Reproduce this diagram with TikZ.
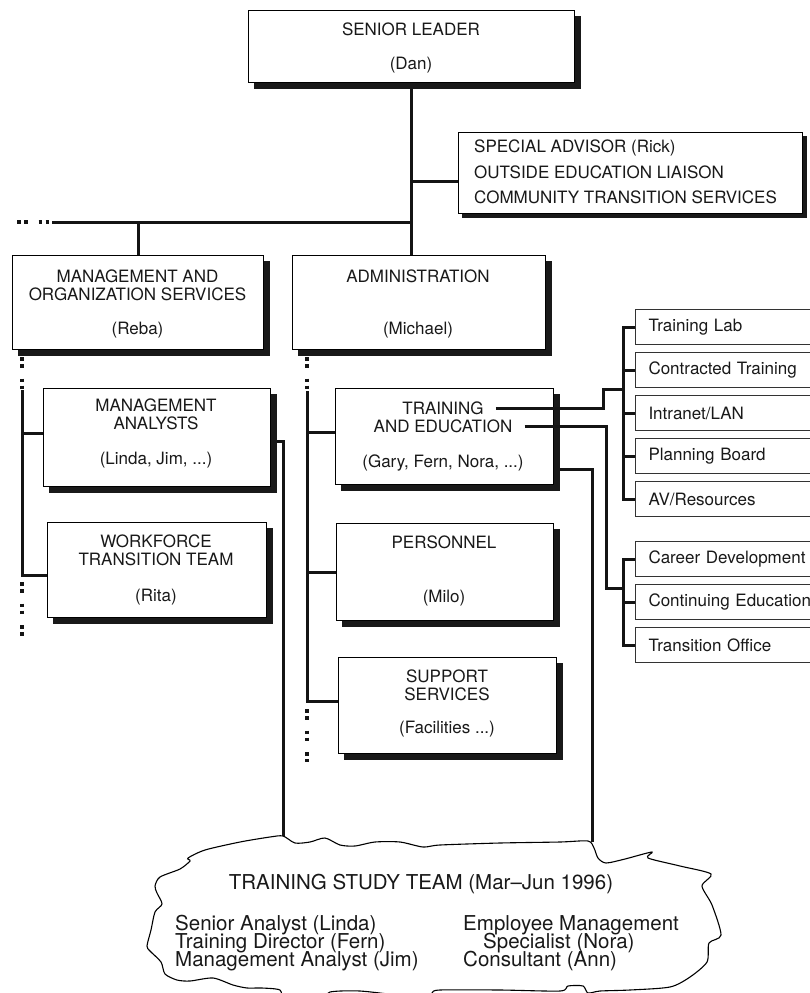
\documentclass[tikz,border=0pt]{standalone}
\usepackage{fontspec}
\setmainfont{TeX Gyre Heros}
\pgfdeclarelayer{paper}
\pgfdeclarelayer{back}
\pgfdeclarelayer{shade}
\pgfsetlayers{paper,back,shade,main}
\begin{document}
\begin{tikzpicture}[x=1pt, y=-1pt,
  unitbox/.style={draw=black, line width=1.1pt, fill=white, inner sep=0pt, anchor=north west},
  shadowfill/.style={fill=black!90},
  sectionbox/.style={draw=black!80, line width=1pt, fill=white, anchor=north west,
    minimum width=200pt, minimum height=35pt, inner xsep=13pt, inner ysep=0pt,
    text width=174pt, align=left, font=\fontsize{17}{18}\selectfont, text=black!90},
  boxcap/.style={font=\fontsize{17}{18}\selectfont, text=black!90, inner sep=0pt, align=center},
  advline/.style={font=\fontsize{17}{18}\selectfont, text=black!90, inner sep=0pt, anchor=west},
  teamtext/.style={font={\fontsize{20.5}{18}\selectfont\lineskiplimit=-50pt}, text=black!90,
    inner sep=0pt, align=left, anchor=west},
  link/.style={line width=3pt, draw=black!92},
  dotlink/.style={line width=3.5pt, draw=black!92, dash pattern=on 3.5pt off 3.5pt on 3.5pt off 11pt},
]
\path[use as bounding box] (0,0) rectangle (810,993);
\begin{pgfonlayer}{paper}
\fill[white] (0,0) rectangle (810,993);
\end{pgfonlayer}
\clip (0,0) rectangle (810,993);

% ---------- fixed points of the connectors ----------
\coordinate (busD) at (17,222);
\coordinate (busL) at (52,222);
\coordinate (lbTop) at (22,357);
\coordinate (lbS) at (22,390);
\coordinate (lbEnd0) at (22,582);
\coordinate (lbEnd1) at (22,640);
\coordinate (abTop) at (307,357);
\coordinate (abS) at (307,391);
\coordinate (abEnd0) at (307,709);
\coordinate (abEnd1) at (307,762);
\coordinate (clA) at (283,837);
\coordinate (clB) at (592,842);
\coordinate (k1) at (603,389);
\coordinate (b1) at (623,389);
\coordinate (k2) at (606,588);
\coordinate (b2) at (623,588);

% ---------- team cloud ----------
\draw[line width=1.1pt, fill=white] plot[smooth cycle, tension=0.45] coordinates {
 (188,858) (205,850) (240,842) (270,837) (283,836) (295,843) (310,842) (325,838)
 (340,845) (355,846) (375,842) (400,842) (423,847) (440,845) (500,843) (560,842)
 (588,841) (594,848) (598,858) (606,863) (625,859) (652,852) (648,858) (680,866)
 (711,874) (702,886) (712,905) (721,935) (709,943) (707,962) (690,977) (670,987)
 (630,990) (600,991) (588,993) (583,986) (568,986) (560,991) (500,990) (440,990)
 (432,993) (428,1000) (410,1000) (402,996) (360,991) (330,992) (322,1000) (285,1000)
 (280,990) (262,988) (247,988) (233,985) (213,978) (190,981) (177,980) (165,974)
 (161,962) (150,951) (147,946) (151,930) (155,912) (162,904) (157,893) (155,886)
 (160,877) (180,869) (190,861)};

\node[font=\fontsize{20.5}{22}\selectfont, text=black!90, inner sep=0pt] (teamT) at (421,884)
  {TRAINING STUDY TEAM (Mar–Jun 1996)};
\node[teamtext] (teamL) at (175,943)
  {Senior Analyst (Linda)\\Training Director (Fern)\\Management Analyst (Jim)};
\node[teamtext] (teamR) at (463,943)
  {Employee Management\\\hspace*{20pt}Specialist (Nora)\\Consultant (Ann)};

% ---------- unit boxes ----------
\path
  node[unitbox, minimum width=326pt, minimum height=72pt] (sl) at (248,10) {}
  node[unitbox, minimum width=344pt, minimum height=81pt] (adv) at (458,132) {}
  node[unitbox, minimum width=251pt, minimum height=94pt] (mos) at (12,255) {}
  node[unitbox, minimum width=253pt, minimum height=94pt] (adm) at (292,255) {}
  node[unitbox, minimum width=227pt, minimum height=98pt] (ma) at (43,388) {}
  node[unitbox, minimum width=219pt, minimum height=95pt] (wtt) at (47,522) {}
  node[unitbox, minimum width=218pt, minimum height=96pt] (te) at (335,388) {}
  node[unitbox, minimum width=217pt, minimum height=97pt] (per) at (336,523) {}
  node[unitbox, minimum width=218pt, minimum height=96pt] (sup) at (338,657) {};

% solid drop shadows under the boxes
\begin{pgfonlayer}{shade}
\foreach \b in {sl,mos,adm,ma,wtt,te,per,sup}
  \fill[shadowfill] ([shift={(6pt,-6pt)}]\b.south west) rectangle ([shift={(6pt,-6pt)}]\b.north east);
\fill[shadowfill] ([shift={(3.5pt,-3.5pt)}]adv.south west) rectangle ([shift={(3.5pt,-3.5pt)}]adv.north east);
\end{pgfonlayer}

% connectors that run behind boxes and shadows
\begin{pgfonlayer}{back}
\draw[link] (sl.south) -- (sl.south |- adm.north);
\draw[link] (sl.south |- busL) -- (busL);
\draw[link] (mos.north |- busL) -- (mos.north);
\draw[link] ([yshift=-8pt]adv.west) -- ([yshift=-8pt]adv.west -| sl.south);
\draw[link] ([yshift=46pt]ma.south east) -| (clA);
\draw[link] ([yshift=16pt]te.south east) -| (clB);
\end{pgfonlayer}
\draw[dotlink] (busD) -- (busL);

% left-hand reporting line
\draw[dotlink] (lbTop) -- (lbS);
\draw[link] (lbS) |- ([yshift=-5pt]wtt.west);
\draw[link] ([yshift=4pt]ma.west) -- ++(-21,0);
\draw[dotlink] (lbEnd0) -- (lbEnd1);

% administration reporting line
\draw[dotlink] (abTop) -- (abS);
\draw[link] (abS) |- ([yshift=4pt]sup.west);
\draw[link] ([yshift=4pt]te.west) -- ++(-28,0);
\draw[link] (per.west) -- ++(-29,0);
\draw[dotlink] (abEnd0) -- (abEnd1);

% box captions
\node[boxcap] (slA) at (411,29) {SENIOR LEADER};
\node[boxcap] (slB) at (411,65) {(Dan)};
\node[advline] (advA) at (474,148) {SPECIAL ADVISOR (Rick)};
\node[advline] (advB) at (474,172) {OUTSIDE EDUCATION LIAISON};
\node[advline] (advC) at (474,197) {COMMUNITY TRANSITION SERVICES};
\node[boxcap] (mosA) at (137.5,285) {MANAGEMENT AND\\ORGANIZATION SERVICES};
\node[boxcap] (mosB) at (137.5,330) {(Reba)};
\node[boxcap] (admA) at (418,276) {ADMINISTRATION};
\node[boxcap] (admB) at (418,330) {(Michael)};
\node[boxcap] (maA) at (156,414) {MANAGEMENT\\ANALYSTS};
\node[boxcap] (maB) at (156,460) {(Linda, Jim, ...)};
\node[boxcap] (wttA) at (156,550) {WORKFORCE\\TRANSITION TEAM};
\node[boxcap] (wttB) at (156,597) {(Rita)};
\node[boxcap] (teA) at (443,408) {TRAINING};
\node[boxcap] (teB) at (443,426) {AND EDUCATION};
\node[boxcap] (teC) at (443,463) {(Gary, Fern, Nora, ...)};
\node[boxcap] (perA) at (444,542) {PERSONNEL};
\node[boxcap] (perB) at (444,598) {(Milo)};
\node[boxcap] (supA) at (447,685) {SUPPORT\\SERVICES};
\node[boxcap] (supB) at (447,729) {(Facilities ...)};

% training and education sections
\node[sectionbox] (tl) at (635,309) {Training Lab};
\node[sectionbox] (ct) at (635,352) {Contracted Training};
\node[sectionbox] (il) at (635,395) {Intranet/LAN};
\node[sectionbox] (pb) at (635,438) {Planning Board};
\node[sectionbox] (av) at (635,481) {AV/Resources};
\node[sectionbox] (cd) at (635,541) {Career Development};
\node[sectionbox] (ce) at (635,584) {Continuing Education};
\node[sectionbox] (to) at (635,627) {Transition Office};

\draw[link] (tl.west) -- ++(-12,0) |- (av.west);
\draw[link] (ct.west) -- ++(-12,0);
\draw[link] (il.west) -- ++(-12,0);
\draw[link] (pb.west) -- ++(-12,0);
\draw[link] (cd.west) -- ++(-12,0) |- (to.west);
\draw[link] (ce.west) -- ++(-12,0);

\draw[link] ([xshift=12pt]teA.east) -| (k1) -- (b1);
\draw[link] ([xshift=12pt]teB.east) -| (k2) -- (b2);
\end{tikzpicture}
\end{document}
